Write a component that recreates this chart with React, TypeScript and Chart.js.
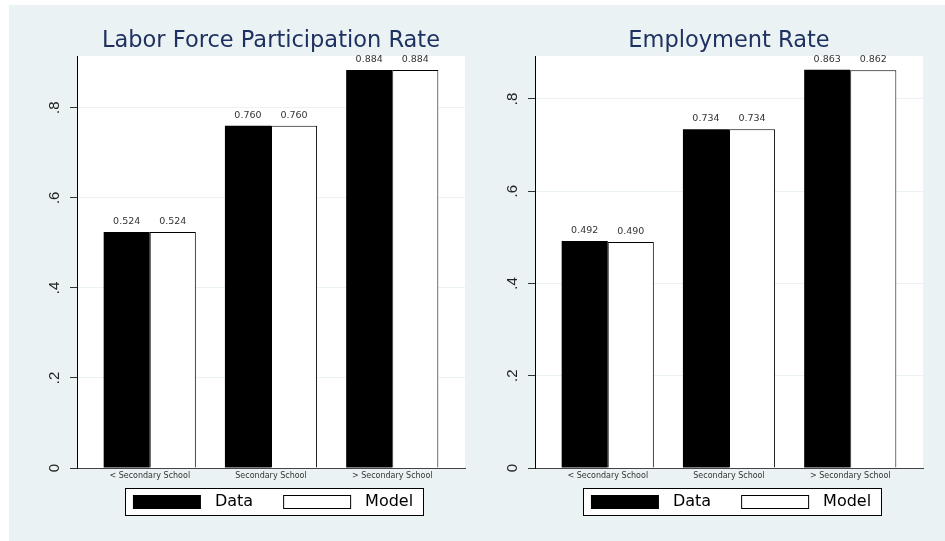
import React, { useEffect, useRef } from "react";
import { Chart, registerables } from "chart.js";

Chart.register(...registerables);

// ---- data ----
const categories = ["< Secondary School", "Secondary School", "> Secondary School"];
const seriesNames = ["Data", "Model"];
const lfpData = [0.524, 0.76, 0.884];
const lfpModel = [0.524, 0.76, 0.884];
const empData = [0.492, 0.734, 0.863];
const empModel = [0.49, 0.734, 0.862];
const yTickValues = [0, 0.2, 0.4, 0.6, 0.8];
const titles = ["Labor Force Participation Rate", "Employment Rate"];

const BG = "#EAF2F3";
const CANVAS_W = 468;
const CANVAS_H = 536;

// legend swatch geometry
const SW_W = 68;
const SW_H = 14;
const SW_LEAD = 4;
const SW_TRAIL = 6;
const SW_TOTAL = SW_LEAD + SW_W + SW_TRAIL;

const fmtY = (v: number) => (Math.abs(v) < 1e-9 ? "0" : "." + Math.round(v * 10));

function makeSwatch(fill: string, stroke: boolean): HTMLCanvasElement {
  const c = document.createElement("canvas");
  c.width = SW_TOTAL;
  c.height = SW_H;
  const g = c.getContext("2d") as CanvasRenderingContext2D;
  g.fillStyle = fill;
  g.fillRect(SW_LEAD, 0, SW_W, SW_H);
  if (stroke) {
    g.strokeStyle = "#000000";
    g.lineWidth = 1;
    g.strokeRect(SW_LEAD + 0.5, 0.5, SW_W - 1, SW_H - 1);
  }
  return c;
}

const decorPlugin = {
  id: "decor",
  beforeDraw(chart: any) {
    const { ctx, chartArea } = chart;
    ctx.save();
    ctx.fillStyle = "#ffffff";
    ctx.fillRect(chartArea.left, chartArea.top, chartArea.right - chartArea.left, chartArea.bottom - chartArea.top);
    const lg = chart.legend;
    if (lg && lg.legendHitBoxes && lg.legendHitBoxes.length) {
      const hb = lg.legendHitBoxes;
      const first = hb[0];
      const last = hb[hb.length - 1];
      const l = Math.round(first.left + SW_LEAD - 8) + 0.5;
      const r = Math.round(last.left + last.width + 10) + 0.5;
      const t = Math.round(first.top - 6) + 0.5;
      const b = Math.round(first.top + first.height + 5) + 0.5;
      ctx.fillStyle = "#ffffff";
      ctx.fillRect(l, t, r - l, b - t);
      ctx.strokeStyle = "#000000";
      ctx.lineWidth = 1;
      ctx.strokeRect(l, t, r - l, b - t);
    }
    ctx.restore();
  },
  afterDatasetsDraw(chart: any) {
    const ctx = chart.ctx;
    ctx.save();
    ctx.font = '9.5px "DejaVu Sans"';
    ctx.fillStyle = "#333333";
    ctx.textAlign = "center";
    ctx.textBaseline = "middle";
    chart.data.datasets.forEach((ds: any, di: number) => {
      const meta = chart.getDatasetMeta(di);
      meta.data.forEach((el: any, i: number) => {
        const v = ds.data[i].y;
        ctx.fillText(v.toFixed(3), el.x, el.y - 10.5);
      });
    });
    ctx.restore();
  },
};

function makeConfig(title: string, dataVals: number[], modelVals: number[], yMax: number, axisWidth: number, padRight: number): any {
  const toPts = (vals: number[]) => vals.map((v, i) => ({ x: i, y: v }));
  const swatches = [makeSwatch("#000000", false), makeSwatch("#ffffff", true)];
  return {
    type: "bar",
    data: {
      datasets: [
        {
          label: seriesNames[0],
          data: toPts(dataVals),
          backgroundColor: "#000000",
          borderColor: "#000000",
          borderWidth: 0,
          barPercentage: 1,
          categoryPercentage: 0.76,
        },
        {
          label: seriesNames[1],
          data: toPts(modelVals),
          backgroundColor: "#ffffff",
          borderColor: "#000000",
          borderWidth: 1,
          barPercentage: 1,
          categoryPercentage: 0.76,
        },
      ],
    },
    options: {
      responsive: false,
      animation: false,
      devicePixelRatio: 1,
      layout: { padding: { top: 0, left: 0, right: padRight, bottom: 21 } },
      scales: {
        x: {
          type: "linear",
          min: -0.6,
          max: 2.6,
          offset: false,
          afterBuildTicks: (scale: any) => {
            scale.ticks = categories.map((_, i) => ({ value: i }));
          },
          afterFit: (scale: any) => {
            scale.height = 0;
          },
          grid: { display: false, drawTicks: false, offset: false },
          border: { display: true, color: "#444444", width: 1 },
          ticks: {
            autoSkip: false,
            maxRotation: 0,
            minRotation: 0,
            mirror: true,
            padding: -12.8,
            color: "#333333",
            font: { family: "DejaVu Sans", size: 8 },
            callback: (v: any) => categories[Math.round(Number(v))] ?? "",
          },
        },
        y: {
          type: "linear",
          min: 0,
          max: yMax,
          afterBuildTicks: (scale: any) => {
            scale.ticks = yTickValues.map((v) => ({ value: v }));
          },
          afterFit: (scale: any) => {
            scale.width = axisWidth;
          },
          grid: {
            color: (c: any) => (c.tick && Math.abs(c.tick.value) < 1e-9 ? "rgba(0,0,0,0)" : BG),
            lineWidth: 1,
            tickColor: "#333333",
            tickLength: 7,
            tickWidth: 1,
          },
          border: { display: true, color: "#000000", width: 1 },
          ticks: {
            includeBounds: false,
            minRotation: 90,
            maxRotation: 90,
            crossAlign: "center",
            padding: 9,
            color: "#222222",
            font: { family: "Liberation Sans", size: 15 },
            callback: (v: any) => fmtY(Number(v)),
          },
        },
      },
      plugins: {
        tooltip: { enabled: false },
        title: {
          display: true,
          text: title,
          fullSize: false,
          color: "#1e3160",
          font: { family: "DejaVu Sans", size: 22.5, weight: "normal", lineHeight: 1.2 },
          padding: { top: 22.5, bottom: 1.5 },
        },
        legend: {
          display: true,
          position: "bottom",
          fullSize: false,
          labels: {
            usePointStyle: true,
            pointStyleWidth: SW_TOTAL,
            boxWidth: SW_TOTAL,
            boxHeight: SW_H,
            padding: 26,
            color: "#000000",
            font: { family: "DejaVu Sans", size: 16 },
            generateLabels: (chart: any) => {
              const items = Chart.defaults.plugins.legend.labels.generateLabels(chart);
              items.forEach((it: any, i: number) => {
                it.pointStyle = swatches[i];
                it.rotation = 0;
              });
              return items;
            },
          },
        },
      },
    },
    plugins: [decorPlugin],
  };
}

function BarPanel(props: { title: string; dataVals: number[]; modelVals: number[]; yMax: number; axisWidth: number; padRight: number; left: number }) {
  const ref = useRef<HTMLCanvasElement | null>(null);
  useEffect(() => {
    if (!ref.current) return;
    const chart = new Chart(ref.current, makeConfig(props.title, props.dataVals, props.modelVals, props.yMax, props.axisWidth, props.padRight));
    return () => chart.destroy();
  }, []);
  return (
    <canvas
      ref={ref}
      width={CANVAS_W}
      height={CANVAS_H}
      style={{ position: "absolute", left: props.left, top: 0, width: CANVAS_W, height: CANVAS_H }}
    />
  );
}

export default function App() {
  return (
    <div style={{ position: "fixed", left: 0, top: 0, width: 945, height: 541, background: "#ffffff", overflow: "hidden" }}>
      <div style={{ position: "absolute", left: 9, top: 5, width: 936, height: 536, background: BG }}>
        <BarPanel title={titles[0]} dataVals={lfpData} modelVals={lfpModel} yMax={0.915} axisWidth={68} padRight={12} left={0} />
        <BarPanel title={titles[1]} dataVals={empData} modelVals={empModel} yMax={0.893} axisWidth={58} padRight={22} left={468} />
      </div>
    </div>
  );
}
